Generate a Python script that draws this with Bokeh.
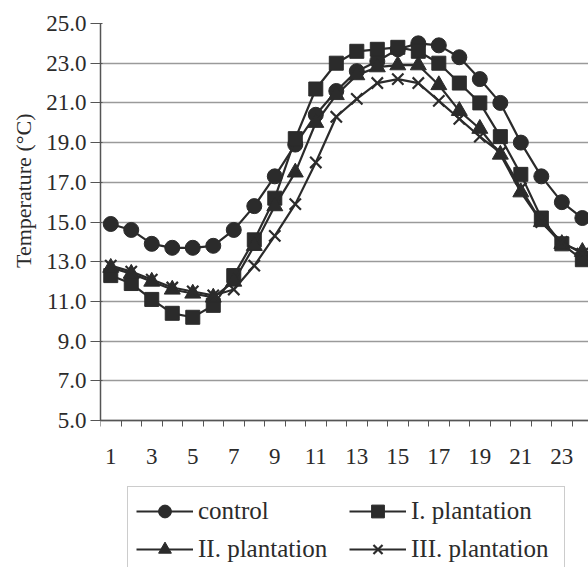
from bokeh.plotting import figure
from bokeh.models import (FixedTicker, Legend, LegendItem, PrintfTickFormatter, Range1d, Title)
from bokeh.embed import file_html
from bokeh.resources import INLINE

hours = list(range(1, 25))
control = [14.9, 14.6, 13.9, 13.7, 13.7, 13.8, 14.6, 15.8, 17.3, 18.9, 20.4, 21.6,
           22.6, 23.1, 23.7, 24.0, 23.9, 23.3, 22.2, 21.0, 19.0, 17.3, 16.0, 15.2]
plant_1 = [12.3, 11.9, 11.1, 10.4, 10.2, 10.8, 12.3, 14.1, 16.2, 19.2, 21.7, 23.0,
           23.6, 23.7, 23.8, 23.6, 23.0, 22.0, 21.0, 19.3, 17.4, 15.2, 13.9, 13.1]
plant_2 = [12.7, 12.4, 12.0, 11.6, 11.4, 11.2, 12.0, 13.8, 15.8, 17.5, 20.0, 21.4,
           22.4, 22.8, 22.9, 22.9, 21.9, 20.6, 19.7, 18.4, 16.5, 15.0, 13.9, 13.5]
plant_3 = [12.8, 12.5, 12.1, 11.7, 11.5, 11.3, 11.6, 12.8, 14.3, 15.9, 18.0, 20.3,
           21.2, 22.0, 22.2, 22.0, 21.1, 20.2, 19.3, 18.5, 16.7, 15.0, 14.0, 13.4]
series_names = ["control", "I. plantation", "II. plantation", "III. plantation"]
x_tick_labels = [1, 3, 5, 7, 9, 11, 13, 15, 17, 19, 21, 23]
y_ticks = [5, 7, 9, 11, 13, 15, 17, 19, 21, 23, 25]
y_title = "Temperature (°C)"

FONT = "Liberation Serif"
INK = "#2b2b2b"

# the frame runs to the bottom of the page so that the legend can sit inside it;
# the value axis itself covers 5..25 in the upper 397 px
Y_MIN, Y_MAX = 5, 25
AXIS_PX, BELOW_PX = 397, 147
y_start = Y_MIN - BELOW_PX * (Y_MAX - Y_MIN) / AXIS_PX

p = figure(frame_width=488, frame_height=AXIS_PX + BELOW_PX, min_border_left=100,
           min_border_right=0, min_border_top=23, min_border_bottom=0, output_backend="svg",
           toolbar_location=None, x_range=Range1d(0.5, 24.3), y_range=Range1d(y_start, Y_MAX))
p.outline_line_color = None
p.background_fill_color = "white"

# x axis: ticks between categories, labels on odd hours, sitting at y = 5
p.xaxis.fixed_location = Y_MIN
p.xaxis.ticker = FixedTicker(ticks=x_tick_labels, minor_ticks=[h + 0.5 for h in range(0, 25)])
p.xaxis.major_tick_out = 0
p.xaxis.major_tick_in = 0
p.xaxis.minor_tick_out = 6
p.xaxis.minor_tick_in = 0
p.xaxis.minor_tick_line_color = "#555555"
p.xaxis.axis_line_color = "#555555"
p.xaxis.axis_line_width = 1.5
p.xaxis.major_label_standoff = 22
p.xaxis.major_label_text_font = FONT
p.xaxis.major_label_text_font_size = "23px"
p.xaxis.major_label_text_color = INK

p.yaxis.bounds = (Y_MIN, Y_MAX)
p.yaxis.ticker = FixedTicker(ticks=y_ticks)
p.yaxis.formatter = PrintfTickFormatter(format="%.1f")
p.yaxis.minor_tick_line_color = None
p.yaxis.major_tick_out = 10
p.yaxis.major_tick_in = 2
p.yaxis.major_tick_line_color = "#555555"
p.yaxis.axis_line_color = "#555555"
p.yaxis.axis_line_width = 1.5
p.yaxis.major_label_standoff = 4
p.yaxis.major_label_text_font = FONT
p.yaxis.major_label_text_font_size = "23px"
p.yaxis.major_label_text_color = INK

title = Title(text=y_title, align="right", offset=90, text_font=FONT,
              text_font_style="normal", text_font_size="22px", text_color=INK,
              standoff=16)
p.add_layout(title, "left")

p.xgrid.grid_line_color = None
p.ygrid.ticker = FixedTicker(ticks=y_ticks)
p.ygrid.grid_line_color = "#9a9a9a"
p.ygrid.grid_line_width = 1.3

items = []
markers = ["circle", "square", "triangle", "x"]
sizes = [15, 14, 16, 16]
for name, ys, mk, sz in zip(series_names, [control, plant_1, plant_2, plant_3], markers, sizes):
    ln = p.line(hours, ys, line_color=INK, line_width=2.2)
    if mk == "x":
        sc = p.scatter(hours, ys, marker=mk, size=sz, line_color=INK, line_width=2.2)
    else:
        sc = p.scatter(hours, ys, marker=mk, size=sz, fill_color=INK, line_color=INK, line_width=1)
    items.append(LegendItem(label=name, renderers=[ln, sc]))

legend = Legend(items=items, location=(27, -7), orientation="horizontal", ncols=2,
                glyph_width=57, glyph_height=32, label_standoff=5, spacing=6,
                padding=8, margin=0, border_line_color="#999999", border_line_width=1,
                label_text_font=FONT, label_text_font_size="25px", label_text_color=INK,
                label_height=32, label_width=145, background_fill_alpha=0)
p.add_layout(legend, "center")

open("out.html", "w").write(file_html(p, INLINE))
